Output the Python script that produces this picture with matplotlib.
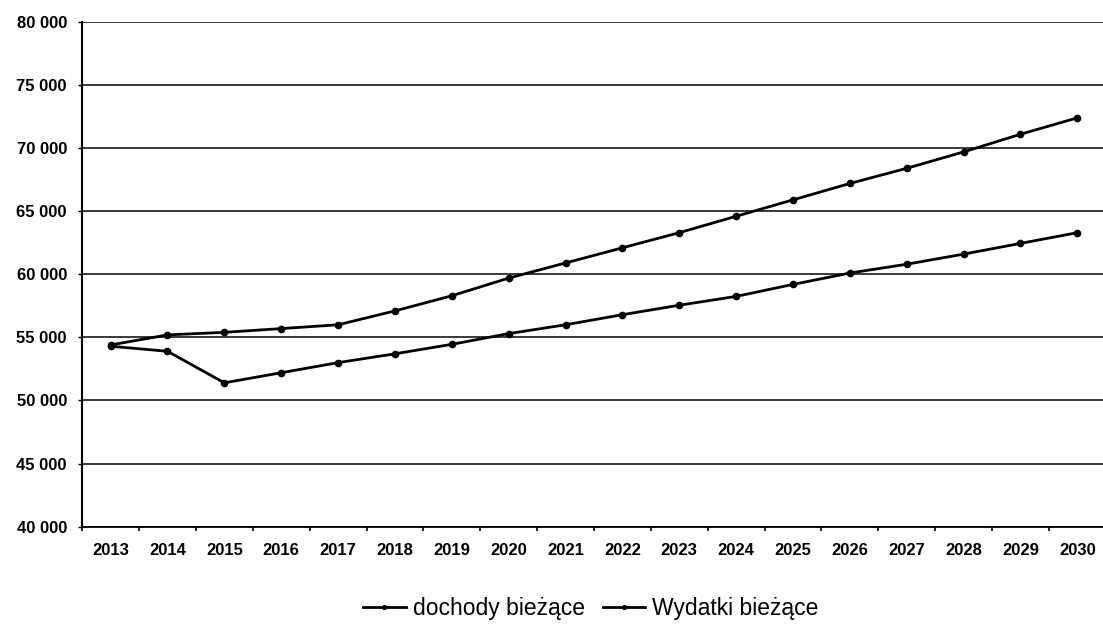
import matplotlib
matplotlib.use("Agg")
import matplotlib.pyplot as plt
from matplotlib.ticker import FuncFormatter, MultipleLocator

plt.rcParams['font.family'] = ['Liberation Sans', 'DejaVu Sans']

# dane
years = [str(y) for y in range(2013, 2031)]
dochody = [54400, 55200, 55400, 55700, 56000, 57100, 58300, 59700, 60900,
           62100, 63300, 64600, 65900, 67200, 68400, 69700, 71100, 72400]
wydatki = [54300, 53900, 51400, 52200, 53000, 53700, 54450, 55300, 56000,
           56800, 57550, 58250, 59200, 60100, 60800, 61600, 62450, 63300]

fig = plt.figure(figsize=(11.03, 6.27), dpi=100)
ax = fig.add_axes([0.0745, 0.160, 0.928, 0.805])

x = list(range(len(years)))
ax.plot(x, dochody, color='black', lw=2, marker='o', ms=4.5,
        label='dochody bieżące')
ax.plot(x, wydatki, color='black', lw=2, marker='o', ms=4.5,
        label='Wydatki bieżące')

ax.set_ylim(40000, 80000)
ax.set_xlim(-0.5, len(years) - 0.5)
ax.yaxis.set_major_locator(MultipleLocator(5000))
ax.yaxis.set_major_formatter(FuncFormatter(lambda v, p: f"{int(v):,}".replace(',', ' ')))
ax.grid(axis='y', color='#2a2a2a', lw=1.3)
ax.set_axisbelow(True)

ax.set_xticks(x)
ax.set_xticklabels(years)
ax.set_xticks([i - 0.5 for i in range(len(years) + 1)], minor=True)
ax.tick_params(axis='x', which='major', length=0, pad=12, labelsize=12)
ax.tick_params(axis='x', which='minor', length=3, width=1.2)
ax.tick_params(axis='y', length=3, width=1, labelsize=12, pad=8)
for lab in ax.get_xticklabels() + ax.get_yticklabels():
    lab.set_fontweight('bold')

for s in ['top', 'right']:
    ax.spines[s].set_visible(False)
ax.spines['left'].set_linewidth(1.5)
ax.spines['bottom'].set_linewidth(1.3)

ax.legend(loc='center', bbox_to_anchor=(0.497, -0.162), ncol=2,
          frameon=False, fontsize=16.5, handlelength=1.85, handletextpad=0.3,
          columnspacing=0.8, markerscale=0.6)

fig.savefig('out.png', dpi=100)
